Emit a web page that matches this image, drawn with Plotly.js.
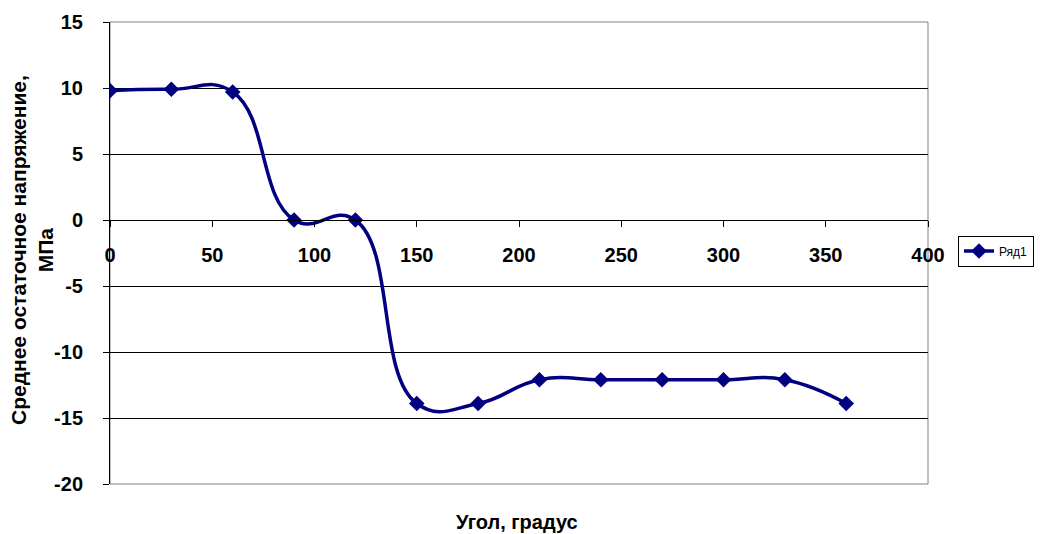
<!DOCTYPE html>
<html><head><meta charset="utf-8">
<script src="https://cdn.plot.ly/plotly-3.0.1.min.js"></script>
<style>body{margin:0;background:#fff}#c{width:1040px;height:534px}</style>
</head><body><div id="c"></div>
<script>
const angles = [0,30,60,90,120,150,180,210,240,270,300,330,360];
const stress = [9.8,9.9,9.7,0,0,-13.9,-13.9,-12.1,-12.1,-12.1,-12.1,-12.1,-13.9];
const seriesName = 'Ряд1';
const xTitle = 'Угол, градус';
const yTitleLines = ['Среднее остаточное напряжение,','МПа'];
const xTickVals = [0,50,100,150,200,250,300,350,400];
const xTickText = ['0','50','100','150','200','250','300','350','400'];
const yTickVals = [-20,-15,-10,-5,0,5,10,15];
const yTickText = ['-20','-15','-10','-5','0','5','10','15'];

const L=110,R=928,T=22,B=484;
const fam='Liberation Sans, Arial, sans-serif';
const f20={family:fam,size:20,color:'#000'};
const b=s=>'<b>'+s+'</b>';
const data=[{x:angles,y:stress,type:'scatter',mode:'lines+markers',name:seriesName,
 line:{color:'#000080',width:3.5,shape:'spline',smoothing:1.3},
 marker:{symbol:'diamond',size:12,color:'#000080'}}];
const layout={width:1040,height:534,margin:{l:L,r:1040-R,t:T,b:534-B},
 paper_bgcolor:'#fff',plot_bgcolor:'#fff',font:f20,
 xaxis:{range:[0,400],tickvals:xTickVals,ticktext:xTickText.map(b),anchor:'free',position:20/35,showgrid:false,zeroline:false,
   showline:true,linecolor:'#000',linewidth:1,ticks:'outside',ticklen:6,tickcolor:'#000',
   tickfont:f20,ticklabelstandoff:11},
 yaxis:{range:[-20,15],tickvals:yTickVals,ticktext:yTickText.map(b),showgrid:true,gridcolor:'#000',gridwidth:1,zeroline:false,
   showline:true,linecolor:'#000',linewidth:1,ticks:'outside',ticklen:6,tickcolor:'#000',
   tickfont:f20,ticklabelstandoff:16},
 showlegend:true,
 legend:{xref:'container',yref:'container',x:958/1040,xanchor:'left',y:(534-251)/534,yanchor:'middle',bordercolor:'#000',borderwidth:1,
   font:{family:fam,size:12,color:'#000'},bgcolor:'#fff',itemwidth:30,tracegroupgap:0},
 shapes:[{type:'rect',xref:'paper',yref:'paper',x0:0,x1:1,y0:0,y1:1,line:{color:'#808080',width:1},layer:'below'}],
 annotations:[
  {text:b(xTitle),xref:'paper',yref:'paper',x:(517-L)/(R-L),y:(B-522)/(B-T),xanchor:'center',yanchor:'middle',showarrow:false,font:f20},
  {text:yTitleLines.map(b).join('<br>'),xref:'paper',yref:'paper',x:(32-L)/(R-L),y:(B-250)/(B-T),xanchor:'center',yanchor:'middle',showarrow:false,textangle:-90,font:{family:fam,size:21,color:'#000'}}
 ]};
Plotly.newPlot('c',data,layout,{displayModeBar:false,staticPlot:true});
</script></body></html>
